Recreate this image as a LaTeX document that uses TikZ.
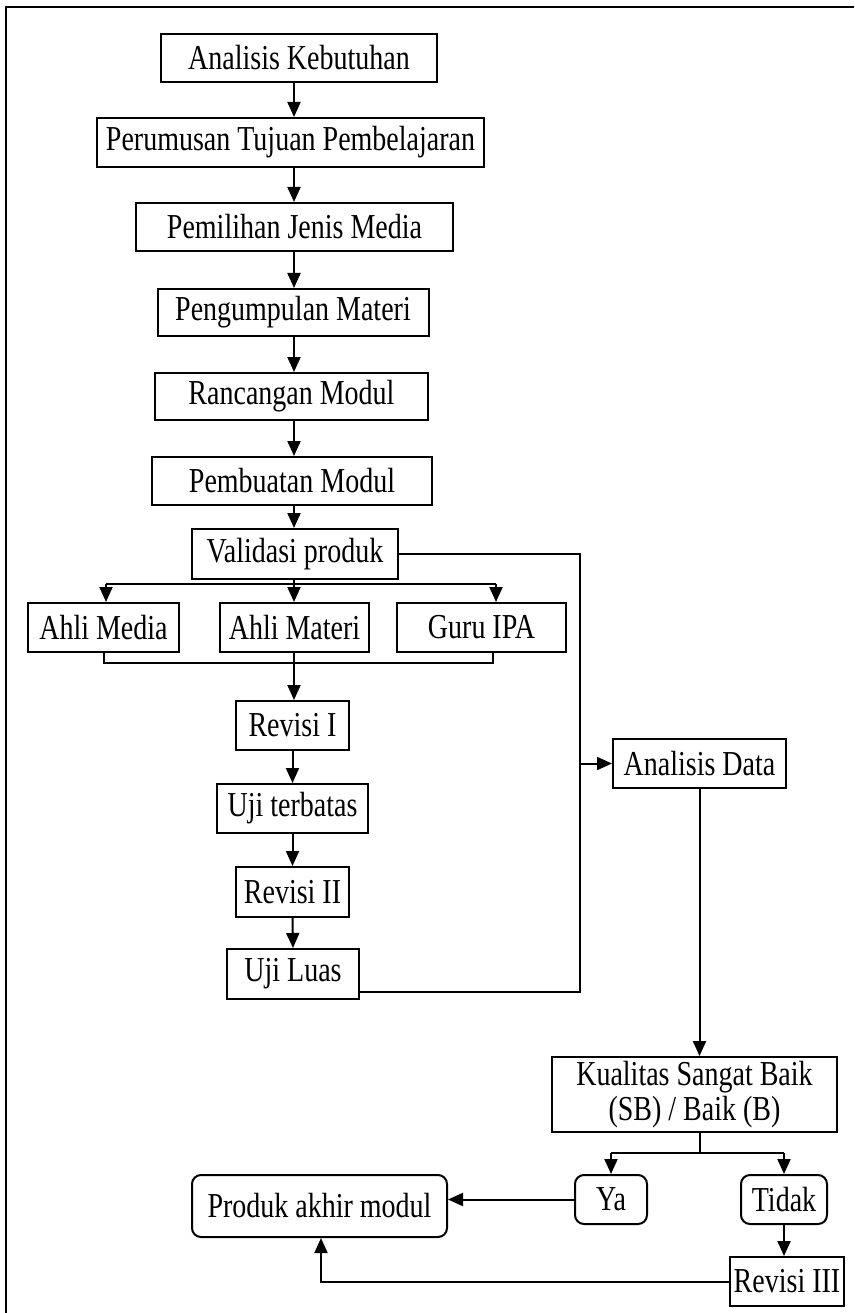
\documentclass[tikz,border=0pt]{standalone}
\usepackage{fontspec}
\setmainfont{Liberation Serif}[FakeStretch=0.8]
\usetikzlibrary{arrows.meta,calc}
\begin{document}
\begin{tikzpicture}[x=1pt,y=-1pt,
  box/.style={draw, line width=2pt, inner sep=0pt, font=\fontsize{35}{35}\selectfont, align=center},
  rbox/.style={box, rounded corners=9pt},
  conn/.style={line width=2pt},
  arr/.style={conn, -{Triangle[length=15pt,width=13pt]}}]
\useasboundingbox (0,0) rectangle (854,1313);
% outer frame
\draw[line width=1.6pt] (6,1313) -- (6,7) -- (854,7);
% nodes
\node[box, minimum width=276pt, minimum height=48pt] (ak) at (299,58) {Analisis Kebutuhan};
\node[box, minimum width=387pt, minimum height=49pt] (pt) at (290.5,142.5) {Perumusan Tujuan Pembelajaran};
\node[box, minimum width=317pt, minimum height=48pt] (pm) at (294.5,227) {Pemilihan Jenis Media};
\node[box, minimum width=271pt, minimum height=47pt] (pgm) at (293,312.5) {Pengumpulan Materi};
\node[box, minimum width=273pt, minimum height=47pt] (rm) at (291.5,396.5) {Rancangan Modul};
\node[box, minimum width=280pt, minimum height=48pt] (bm) at (292,481) {Pembuatan Modul};
\node[box, minimum width=206pt, minimum height=50pt] (vp) at (295,554) {Validasi produk};
\node[box, minimum width=151pt, minimum height=49pt] (ame) at (103.5,627.5) {Ahli Media};
\node[box, minimum width=149pt, minimum height=49pt] (ama) at (294.5,627.5) {Ahli Materi};
\node[box, minimum width=169pt, minimum height=49pt] (gi) at (481.5,627.5) {Guru IPA};
\node[box, minimum width=113pt, minimum height=49pt] (r1) at (292.5,725.5) {Revisi I};
\node[box, minimum width=151pt, minimum height=49pt] (ut) at (292.5,808.5) {Uji terbatas};
\node[box, minimum width=113pt, minimum height=50pt] (r2) at (292.5,892) {Revisi II};
\node[box, minimum width=132pt, minimum height=50pt] (ul) at (293,974) {Uji Luas};
\node[box, minimum width=173pt, minimum height=49pt] (ad) at (699.5,763.5) {Analisis Data};
\node[box, minimum width=285pt, minimum height=75pt] (kq) at (694.5,1094.5) {Kualitas Sangat Baik\\(SB) / Baik (B)};
\node[rbox, minimum width=72pt, minimum height=49pt] (ya) at (611,1199.5) {Ya};
\node[rbox, minimum width=86pt, minimum height=49pt] (td) at (784,1199.5) {Tidak};
\node[box, minimum width=114pt, minimum height=49pt] (r3) at (787,1281.5) {Revisi III};
\node[rbox, minimum width=255pt, minimum height=62pt] (pa) at (319.5,1206) {Produk akhir modul};
% main column
\coordinate (col) at (294,0);
\draw[arr] (ak.south -| col) -- (pt.north -| col);
\draw[arr] (pt.south -| col) -- (pm.north -| col);
\draw[arr] (pm.south -| col) -- (pgm.north -| col);
\draw[arr] (pgm.south -| col) -- (rm.north -| col);
\draw[arr] (rm.south -| col) -- (bm.north -| col);
\draw[arr] (bm.south -| col) -- (vp.north -| col);
% validation branch
\coordinate (vb) at (294,584);
\coordinate (b1) at (106,584);
\coordinate (b3) at (496,584);
\draw[conn] (vp.south -| col) -- (vb);
\draw[conn] (b1) -- (b3);
\draw[arr] (b1) -- (b1 |- ame.north);
\draw[arr] (vb) -- (vb |- ama.north);
\draw[arr] (b3) -- (b3 |- gi.north);
% join
\coordinate (j1) at (104,663);
\coordinate (j2) at (294,663);
\coordinate (j3) at (493,663);
\draw[conn] (j1 |- ame.south) -- (j1) -- (j3) -- (j3 |- gi.south);
\draw[conn] (j2 |- ama.south) -- (j2);
\draw[arr] (j2) -- (j2 |- r1.north);
\draw[arr] (r1.south) -- (ut.north);
\draw[arr] (ut.south) -- (r2.north);
\draw[arr] (r2.south) -- (ul.north);
% right loop
\coordinate (rv) at (580,554);
\coordinate (rb) at (580,992);
\draw[conn] (vp.east) -- (rv) -- (rb) -- (rb -| ul.east);
\draw[arr] (rv |- ad.west) -- (ad.west);
\draw[arr] (ad.south) -- (ad.south |- kq.north);
% decision
\coordinate (kb) at (700,1153);
\draw[conn] (kb |- kq.south) -- (kb);
\draw[conn] (ya.north |- kb) -- (td.north |- kb);
\draw[arr] (ya.north |- kb) -- (ya.north);
\draw[arr] (td.north |- kb) -- (td.north);
\draw[arr] (ya.west) -- (ya.west -| pa.east);
\draw[arr] (td.south) -- (td.south |- r3.north);
\coordinate (pb) at (321,1280);
\draw[arr] (r3.west) -- (r3.west -| pb) -- (pb |- pa.south);
\end{tikzpicture}
\end{document}
